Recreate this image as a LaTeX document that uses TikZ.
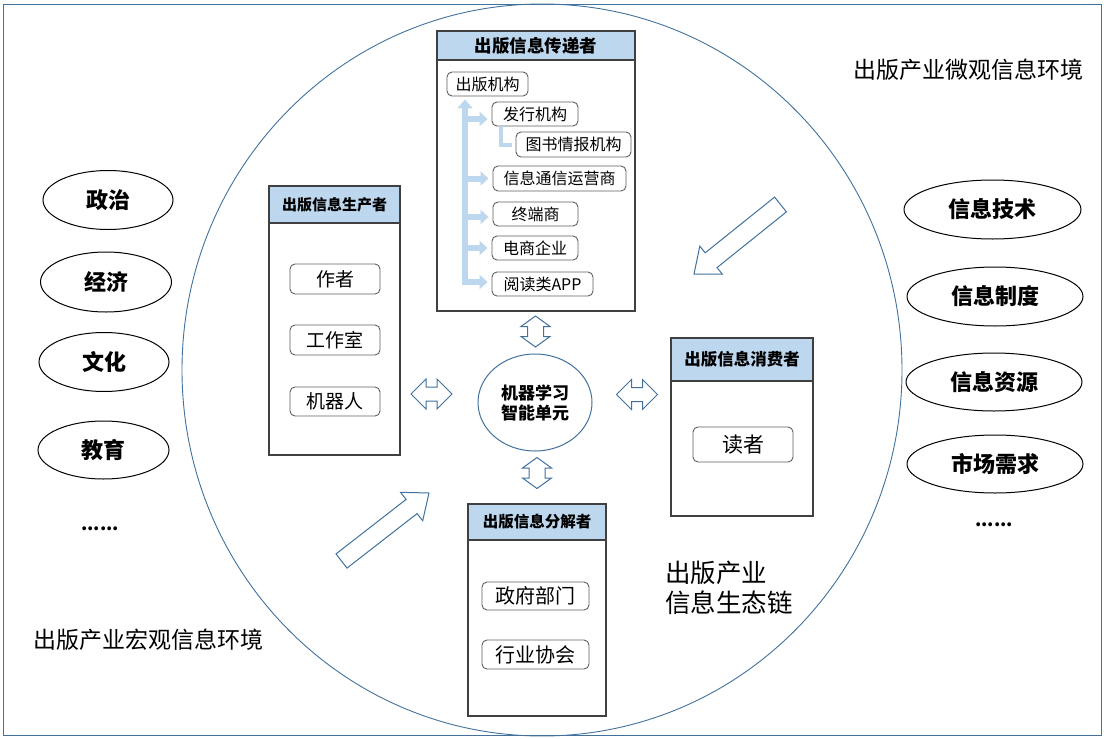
\documentclass[tikz,border=0pt]{standalone}
\usepackage{fontspec}
\setmainfont{Noto Sans CJK SC}
\usetikzlibrary{shapes.geometric,arrows.meta,calc}
\definecolor{edgeblue}{RGB}{65,113,156}
\definecolor{hdrblue}{RGB}{189,215,238}
\definecolor{boxgray}{RGB}{64,64,64}
\definecolor{itemgray}{RGB}{95,95,95}
\begin{document}
\begin{tikzpicture}[x=1pt,y=-1pt,
  env/.style={draw=black, line width=1pt, ellipse, inner sep=0pt, font=\bfseries\fontsize{22}{26}\selectfont},
  boxbody/.style={draw=boxgray, line width=1.3pt, fill=white, inner sep=0pt},
  boxhead/.style={draw=boxgray, line width=1.3pt, fill=hdrblue, inner sep=0pt},
  item/.style={draw=itemgray, line width=0.9pt, rounded corners=5pt, inner sep=0pt, text=black},
  outl/.style={draw=edgeblue, line width=1pt, fill=white, line join=miter},
  tree/.style={draw=hdrblue, line width=6pt},
  dots/.style={anchor=base, inner sep=0pt, font=\bfseries\fontsize{18}{20}\selectfont},
  harrow/.pic={\draw[outl] (-20.5,0) -- (-5.5,-15) -- (-5.5,-7) -- (5.5,-7) -- (5.5,-15) -- (20.5,0) -- (5.5,15) -- (5.5,7) -- (-5.5,7) -- (-5.5,15) -- cycle;},
  varrow/.pic={\draw[outl] (0,-15.5) -- (14.5,-5) -- (8,-5) -- (8,5) -- (14.5,5) -- (0,15.5) -- (-14.5,5) -- (-8,5) -- (-8,-5) -- (-14.5,-5) -- cycle;}
  ]
\useasboundingbox (0,0) rectangle (1104,739);
\draw[edgeblue, line width=1pt] (3,4) rectangle (1101,735);
\draw[edgeblue, line width=0.9pt] (542,370) ellipse [x radius=360pt, y radius=366pt];

% environment ellipses
\node[env, minimum width=130pt, minimum height=59pt] (e1) at (108,200) {政治};
\node[env, minimum width=131pt, minimum height=60pt] (e2) at (106,282) {经济};
\node[env, minimum width=130pt, minimum height=59pt] (e3) at (104,362) {文化};
\node[env, minimum width=131pt, minimum height=58pt] (e4) at (103.5,450) {教育};
\node[dots] (e5) at (100,530) {......};
\node[env, minimum width=177pt, minimum height=59pt] (m1) at (992.5,209.5) {信息技术};
\node[env, minimum width=176pt, minimum height=59pt] (m2) at (995,296.5) {信息制度};
\node[env, minimum width=176pt, minimum height=58pt] (m3) at (994,382) {信息资源};
\node[env, minimum width=176pt, minimum height=58pt] (m4) at (995,464) {市场需求};
\node[dots] (m5) at (994,526) {......};

\node[anchor=west, inner sep=0pt, font=\fontsize{23}{26}\selectfont] (micro) at (853,70) {出版产业微观信息环境};
\node[anchor=west, inner sep=0pt, font=\fontsize{23}{26}\selectfont] (macro) at (33,640) {出版产业宏观信息环境};
\node[anchor=west, inner sep=0pt, align=left, font=\fontsize{25.5}{30}\selectfont] (eco) at (665,588) {出版产业\\信息生态链};

% transmitter box
\node[boxbody, minimum width=198pt, minimum height=280pt] (trans) at (536,171) {};
\node[boxhead, minimum width=198pt, minimum height=29pt, anchor=north, font=\bfseries\fontsize{17.5}{20}\selectfont] (transh) at (trans.north) {出版信息传递者};
\begin{scope}[every node/.append style={font=\fontsize{16}{18}\selectfont}]
\node[item, minimum width=81pt, minimum height=24pt] (pub) at (487.5,84) {出版机构};
\node[item, minimum width=86pt, minimum height=24pt] (dist) at (535,114) {发行机构};
\node[item, minimum width=115pt, minimum height=25pt] (lib) at (573.5,144.5) {图书情报机构};
\node[item, minimum width=133pt, minimum height=25pt] (tel) at (559.5,178.5) {信息通信运营商};
\node[item, minimum width=85pt, minimum height=24pt] (term) at (535.5,214) {终端商};
\node[item, minimum width=86pt, minimum height=24pt] (ecom) at (535,248) {电商企业};
\node[item, minimum width=101pt, minimum height=24pt] (app) at (542.5,284) {阅读类APP};
\end{scope}
\coordinate (trunk) at (465,285);
\coordinate (lk) at (501,0);
\draw[tree, -{Triangle[width=15pt,length=9pt]}, shorten >=3pt] (trunk) -- (trunk |- pub.south);
\begin{scope}[tree, -{Triangle[width=14pt,length=8pt]}, shorten >=4pt]
\draw ($(trunk |- dist.west)+(0,5)$) -- ($(dist.west)+(0,5)$);
\draw (trunk |- tel.west) -- (tel.west);
\draw ($(trunk |- term.west)+(0,3)$) -- ($(term.west)+(0,3)$);
\draw (trunk |- ecom.west) -- (ecom.west);
\draw ($(trunk |- app.west)+(0,-2)$) -- ($(app.west)+(0,-2)$);
\end{scope}
\draw[hdrblue, line width=4pt, shorten >=4pt] (lk |- dist.south) -- (lk |- lib.west) -- (lib.west);

% producer box
\node[boxbody, minimum width=131pt, minimum height=269pt] (prod) at (334.5,320.5) {};
\node[boxhead, minimum width=131pt, minimum height=37pt, anchor=north, font=\bfseries\fontsize{15}{18}\selectfont] (prodh) at (prod.north) {出版信息生产者};
\begin{scope}[every node/.append style={font=\fontsize{19}{22}\selectfont}]
\node[item, minimum width=90pt, minimum height=30pt] (author) at (335,279) {作者};
\node[item, minimum width=90pt, minimum height=30pt] (studio) at (335,340) {工作室};
\node[item, minimum width=90pt, minimum height=29pt] (robot) at (335,401.5) {机器人};
\end{scope}

% consumer box
\node[boxbody, minimum width=142pt, minimum height=178pt] (cons) at (742,427) {};
\node[boxhead, minimum width=142pt, minimum height=43pt, anchor=north, font=\bfseries\fontsize{16.5}{19}\selectfont] (consh) at (cons.north) {出版信息消费者};
\node[item, minimum width=100pt, minimum height=35pt, font=\fontsize{21}{24}\selectfont] (reader) at (743,444.5) {读者};

% decomposer box
\node[boxbody, minimum width=138pt, minimum height=212pt] (decomp) at (537,610) {};
\node[boxhead, minimum width=138pt, minimum height=36pt, anchor=north, font=\bfseries\fontsize{15.5}{18}\selectfont] (decomph) at (decomp.north) {出版信息分解者};
\begin{scope}[every node/.append style={font=\fontsize{20}{23}\selectfont}]
\node[item, minimum width=107pt, minimum height=28pt] (gov) at (535.5,596) {政府部门};
\node[item, minimum width=107pt, minimum height=29pt] (assoc) at (535.5,654.5) {行业协会};
\end{scope}

% machine learning unit
\node[draw=edgeblue, line width=1pt, ellipse, minimum width=114pt, minimum height=97pt, inner sep=0pt, align=center, font=\bfseries\fontsize{17}{20}\selectfont] (ml) at (535,402.5) {机器学习\\智能单元};

% double arrows
\pic at (431.5,394) {harrow};
\pic at (637,394.5) {harrow};
\pic at (535.5,331.5) {varrow};
\pic at (537,473) {varrow};

% big hollow arrows
\draw[outl] (774.6,197.1) -- (705.2,252.8) -- (699.8,246.2) -- (694,274) -- (722.4,274.2) -- (717.0,267.6) -- (786.4,211.9) -- cycle;
\draw[outl] (336.0,553.9) -- (406.1,499.4) -- (400.5,492.3) -- (429,493) -- (422.7,520.7) -- (417.1,513.6) -- (347.0,568.1) -- cycle;
\end{tikzpicture}
\end{document}
